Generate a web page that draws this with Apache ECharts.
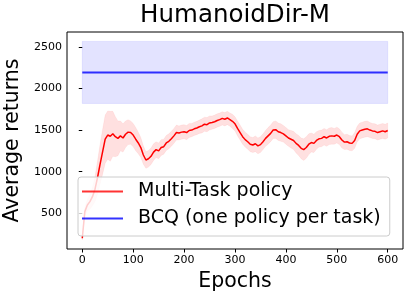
<!DOCTYPE html>
<html>
<head>
<meta charset="utf-8">
<script src="https://cdn.jsdelivr.net/npm/echarts@6/dist/echarts.min.js"></script>
<style>html,body{margin:0;padding:0;background:#fff}#c{width:412px;height:299px}</style>
</head>
<body>
<div id="c"></div>
<script>
const epochs = [0,5,10,15,20,25,30,35,40,45,50,55,60,65,70,75,80,85,90,95,100,105,110,115,120,125,130,135,140,145,150,155,160,165,170,175,180,185,190,195,200,205,210,215,220,225,230,235,240,245,250,255,260,265,270,275,280,285,290,295,300,305,310,315,320,325,330,335,340,345,350,355,360,365,370,375,380,385,390,395,400,405,410,415,420,425,430,435,440,445,450,455,460,465,470,475,480,485,490,495,500,505,510,515,520,525,530,535,540,545,550,555,560,565,570,575,580,585,590,595,600];
const multiTaskMean = [200,520,600,640,700,790,930,1090,1240,1390,1440,1425,1455,1420,1400,1430,1405,1450,1475,1470,1440,1390,1345,1290,1200,1140,1155,1185,1235,1265,1250,1290,1300,1345,1365,1395,1430,1470,1465,1475,1480,1470,1495,1500,1515,1525,1540,1550,1570,1565,1585,1590,1600,1615,1625,1640,1630,1645,1625,1605,1575,1520,1470,1420,1385,1360,1330,1320,1335,1310,1325,1360,1400,1430,1460,1500,1505,1480,1470,1455,1430,1405,1390,1375,1340,1315,1280,1265,1290,1330,1350,1340,1375,1395,1400,1420,1405,1425,1430,1425,1440,1420,1380,1355,1360,1345,1340,1375,1450,1490,1500,1510,1515,1500,1490,1485,1470,1480,1490,1480,1495];
const multiTaskStd = [20,50,70,90,110,150,200,240,270,290,290,300,270,240,210,180,170,160,150,140,140,140,130,120,110,100,100,100,100,95,95,95,90,90,90,90,90,90,85,85,85,85,85,80,80,80,80,85,85,85,85,80,80,80,80,80,80,80,80,85,85,90,90,90,90,90,90,90,95,95,95,95,95,100,100,100,105,105,105,100,100,100,105,110,115,120,125,130,130,125,115,110,105,100,100,100,100,100,100,95,95,95,95,90,90,90,90,95,95,95,95,95,95,90,90,90,90,90,90,90,90];
const bcqEpochs = [0, 600];
const bcqMean = [2190, 2190];
const bcqLow = 1820;
const bcqHigh = 2565;
const xTicks = [0,100,200,300,400,500,600];
const yTicks = [500,1000,1500,2000,2500];

const font = 'DejaVu Sans';
const meanData = epochs.map((e,i)=>[e, multiTaskMean[i]]);
const bcqData = bcqEpochs.map((e,i)=>[e, bcqMean[i]]);
const lineIcon = 'path://M0,0 L41,0 L41,2 L0,2 Z';

const chart = echarts.init(document.getElementById('c'), null, {renderer:'canvas'});
chart.setOption({
  animation: false,
  backgroundColor: '#fff',
  title: {
    text: 'HumanoidDir-M', left: 235, top: 3, padding: 0, textAlign: 'center',
    textStyle: {fontFamily: font, fontSize: 24.5, fontWeight: 'normal', color: '#000'}
  },
  grid: {left: 67, right: 9, top: 32, bottom: 50, show: true, borderColor: '#000', borderWidth: 1,
         backgroundColor: 'transparent', outerBoundsMode: 'none', containLabel: false},
  xAxis: {
    type: 'value', min: -30, max: 630,
    name: 'Epochs', nameLocation: 'middle', nameGap: 20,
    nameTextStyle: {fontFamily: font, fontSize: 20.5, color: '#000'},
    axisLine: {show: false},
    axisTick: {show: true, length: 3.5, lineStyle: {color: '#000'}, customValues: xTicks},
    axisLabel: {fontFamily: font, fontSize: 11, color: '#000', margin: 6, customValues: xTicks,
                formatter: v => String(v)},
    splitLine: {show: false}
  },
  yAxis: {
    type: 'value', min: 71, max: 2678,
    name: 'Average returns', nameLocation: 'middle', nameGap: 37,
    nameTextStyle: {fontFamily: font, fontSize: 20.5, color: '#000'},
    axisLine: {show: false},
    axisTick: {show: true, length: 3.5, lineStyle: {color: '#000'}, customValues: yTicks},
    axisLabel: {fontFamily: font, fontSize: 11, color: '#000', margin: 5, customValues: yTicks,
                formatter: v => String(v)},
    splitLine: {show: false}
  },
  legend: {
    data: [{name: 'Multi-Task policy', icon: lineIcon}, {name: 'BCQ (one policy per task)', icon: lineIcon}],
    orient: 'vertical', left: 78, top: 177, z: 20,
    padding: [5, 9, 8, 4],
    itemWidth: 41, itemHeight: 20, itemGap: 8,
    symbolKeepAspect: true,
    backgroundColor: 'rgba(255,255,255,0.8)', borderColor: '#cccccc', borderWidth: 1, borderRadius: 3,
    textStyle: {fontFamily: font, fontSize: 19, color: '#000', padding: [0,0,0,10]}
  },
  series: [
    {name: 'band', type: 'custom', silent: true, data: [[0]], z: 1,
     renderItem: function (params, api) {
       const pts = [];
       for (let i = 0; i < epochs.length; i++) pts.push(api.coord([epochs[i], multiTaskMean[i] + multiTaskStd[i]]));
       for (let i = epochs.length - 1; i >= 0; i--) pts.push(api.coord([epochs[i], multiTaskMean[i] - multiTaskStd[i]]));
       return {type: 'polygon', shape: {points: pts}, style: {fill: 'rgba(255,0,0,0.12)', stroke: 'rgba(255,0,0,0.05)', lineWidth: 1}};
     }},
    {name: 'BCQ (one policy per task)', type: 'line', data: bcqData, symbol: 'none', z: 2,
     lineStyle: {color: 'rgba(0,0,255,0.8)', width: 2}, itemStyle: {color: 'rgba(0,0,255,0.8)'},
     markArea: {silent: true, itemStyle: {color: 'rgba(0,0,255,0.11)', borderColor: 'rgba(0,0,255,0.08)', borderWidth: 1},
       data: [[{xAxis: bcqEpochs[0], yAxis: bcqLow}, {xAxis: bcqEpochs[1], yAxis: bcqHigh}]]}},
    {name: 'Multi-Task policy', type: 'line', data: meanData, symbol: 'none', z: 2,
     lineStyle: {color: '#ff0000', width: 1.5}, itemStyle: {color: 'rgba(255,0,0,0.8)'}}
  ]
});
</script>
</body>
</html>
